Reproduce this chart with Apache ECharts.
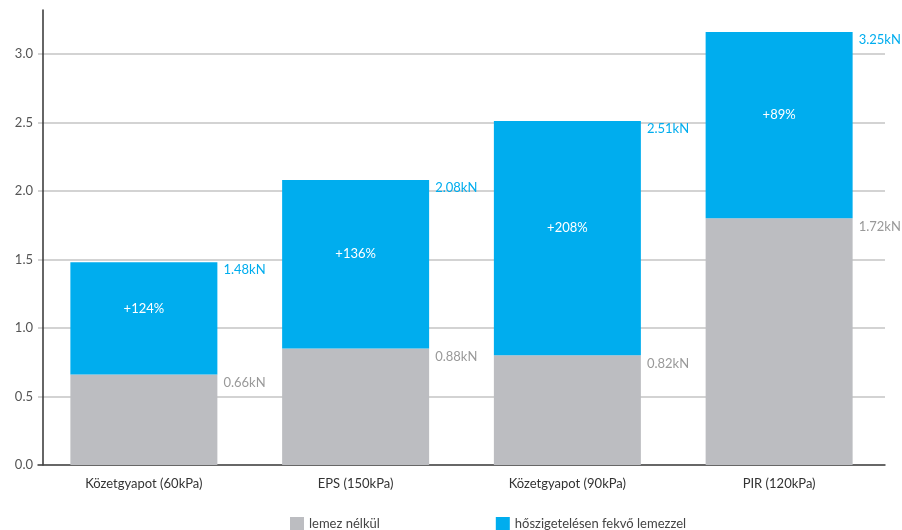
<!DOCTYPE html>
<html>
<head>
<meta charset="utf-8">
<script src="https://cdn.jsdelivr.net/npm/echarts@6/dist/echarts.min.js"></script>
<style>
  html, body { margin: 0; padding: 0; background: #fff; }
  #chart { width: 902px; height: 530px; }
</style>
</head>
<body>
<div id="chart"></div>
<script>
// Data
var categories = ["Közetgyapot (60kPa)", "EPS (150kPa)", "Közetgyapot (90kPa)", "PIR (120kPa)"];
var baseValues = [0.66, 0.85, 0.80, 1.80];      // lemez nélkül (bar height as drawn)
var totalValues = [1.48, 2.08, 2.51, 3.16];     // hőszigetelésen fekvő lemezzel (bar top as drawn)
var baseLabels = ["0.66kN", "0.88kN", "0.82kN", "1.72kN"];
var totalLabels = ["1.48kN", "2.08kN", "2.51kN", "3.25kN"];
var gainLabels = ["+124%", "+136%", "+208%", "+89%"];
var seriesNames = ["lemez nélkül", "hőszigetelésen fekvő lemezzel"];

var GREY = "#bcbdc1";
var BLUE = "#00adee";
var FONT = "Lato, 'DejaVu Sans', sans-serif";

var increments = totalValues.map(function (t, i) {
  return +(t - baseValues[i]).toFixed(2);
});

var chart = echarts.init(document.getElementById("chart"));

chart.setOption({
  animation: false,
  textStyle: { fontFamily: FONT },
  grid: { left: 38, right: 17, top: 10, bottom: 65 },
  legend: {
    left: 285,
    top: 512,
    itemWidth: 14,
    itemHeight: 14,
    itemGap: 116,
    icon: "rect",
    textStyle: { color: "#444", fontSize: 13, fontFamily: FONT },
    data: seriesNames
  },
  xAxis: {
    type: "category",
    data: categories,
    axisLine: { lineStyle: { color: "#444", width: 1.5 } },
    axisTick: { show: false },
    axisLabel: { color: "#333", fontSize: 13, margin: 12 }
  },
  yAxis: {
    type: "value",
    min: 0,
    max: 3.32,
    interval: 0.5,
    offset: -5,
    axisLine: { show: true, lineStyle: { color: "#333", width: 1.5 } },
    axisTick: { show: false },
    axisLabel: {
      color: "#555",
      fontSize: 13,
      margin: 10,
      formatter: function (v) {
        return Math.abs(v / 0.5 - Math.round(v / 0.5)) < 1e-6 ? v.toFixed(1) : "";
      }
    },
    splitLine: { showMaxLine: false, lineStyle: { color: "#c4c4c4", width: 1.5 } }
  },
  series: [
    {
      name: seriesNames[0],
      type: "bar",
      stack: "total",
      barWidth: 147,
      itemStyle: { color: GREY },
      label: {
        show: true,
        position: ["100%", 0],
        offset: [6, 2],
        align: "left",
        verticalAlign: "top",
        color: "#999",
        fontSize: 13,
        formatter: function (p) { return baseLabels[p.dataIndex]; }
      },
      data: baseValues
    },
    {
      name: seriesNames[1],
      type: "bar",
      stack: "total",
      barWidth: 147,
      itemStyle: { color: BLUE },
      label: {
        show: true,
        position: "inside",
        offset: [0, -10],
        color: "#fff",
        fontSize: 13,
        formatter: function (p) { return gainLabels[p.dataIndex]; }
      },
      data: increments
    },
    {
      // labels for the stack tops
      name: "top",
      type: "bar",
      stack: "total",
      barWidth: 147,
      silent: true,
      itemStyle: { color: "transparent" },
      label: {
        show: true,
        position: ["100%", 0],
        offset: [6, 1],
        align: "left",
        verticalAlign: "top",
        color: BLUE,
        fontSize: 13,
        formatter: function (p) { return totalLabels[p.dataIndex]; }
      },
      data: categories.map(function () { return 0; })
    }
  ]
});
</script>
</body>
</html>
